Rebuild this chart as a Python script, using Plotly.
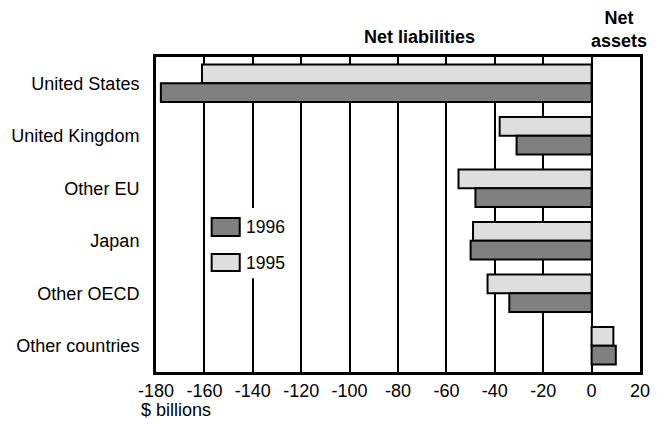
import plotly.graph_objects as go

categories = ["United States", "United Kingdom", "Other EU", "Japan", "Other OECD", "Other countries"]
values_1995 = [-161, -38, -55, -49, -43, 9]
values_1996 = [-178, -31, -48, -50, -34, 10]
x_ticks = [-180, -160, -140, -120, -100, -80, -60, -40, -20, 0, 20]
series_names = ["1995", "1996"]
series_colors = ["#dedede", "#808080"]

FONT = "Liberation Sans, Arial, sans-serif"
FS = 18

fig = go.Figure()
for name, vals, col in zip(series_names, [values_1995, values_1996], series_colors):
    fig.add_trace(go.Bar(
        y=categories, x=vals, orientation="h", name=name,
        marker=dict(color=col, line=dict(color="black", width=2)),
    ))

# custom legend (1996 listed first), placed in paper coordinates
shapes = [
    dict(type="rect", xref="paper", yref="paper", x0=0.105, x1=0.284, y0=0.298, y1=0.521,
         fillcolor="white", line=dict(width=0), layer="above"),
]
annotations = []
legend_rows = [("1996", "#808080", 0.432, 0.489, 0.460), ("1995", "#dedede", 0.321, 0.375, 0.346)]
for name, col, y0, y1, yt in legend_rows:
    shapes.append(dict(type="rect", xref="paper", yref="paper", x0=0.115, x1=0.173, y0=y0, y1=y1,
                       fillcolor=col, line=dict(color="black", width=2), layer="above"))
    annotations.append(dict(text=name, x=0.181, y=yt, xref="paper", yref="paper", showarrow=False,
                            xanchor="left", yanchor="middle", font=dict(family=FONT, size=17.5)))

annotations += [
    dict(text="<b>Net liabilities</b>", x=0.545, y=1.063, xref="paper", yref="paper",
         showarrow=False, font=dict(family=FONT, size=FS), xanchor="center", yanchor="middle"),
    dict(text="<b>Net<br>assets</b>", x=0.956, y=1.088, xref="paper", yref="paper",
         showarrow=False, font=dict(family=FONT, size=FS), xanchor="center", yanchor="middle",
         align="center"),
    dict(text="$ billions", x=-0.036, y=-0.12, xref="paper", yref="paper",
         showarrow=False, font=dict(family=FONT, size=FS), xanchor="left", yanchor="middle"),
]

fig.update_layout(
    width=654, height=418,
    margin=dict(l=148, r=22, t=49, b=54),
    paper_bgcolor="white", plot_bgcolor="white",
    barmode="group", bargap=0.29, bargroupgap=0,
    font=dict(family=FONT, size=FS, color="black"),
    showlegend=False,
    xaxis=dict(
        range=[-180, 20], tickvals=x_ticks, ticktext=[str(v) for v in x_ticks],
        showgrid=True, gridcolor="black", gridwidth=2,
        zeroline=True, zerolinecolor="black", zerolinewidth=2,
        showline=True, linecolor="black", linewidth=3, mirror=True,
        ticks="", ticklen=0, tickfont=dict(family=FONT, size=FS),
        fixedrange=True, automargin=False,
    ),
    yaxis=dict(
        autorange="reversed", type="category",
        showgrid=False, showline=True, linecolor="black", linewidth=3, mirror=True,
        ticks="outside", ticklen=10, tickcolor="rgba(0,0,0,0)",
        tickfont=dict(family=FONT, size=FS), automargin=False,
    ),
    shapes=shapes,
    annotations=annotations,
)

fig.write_html("out.html")
